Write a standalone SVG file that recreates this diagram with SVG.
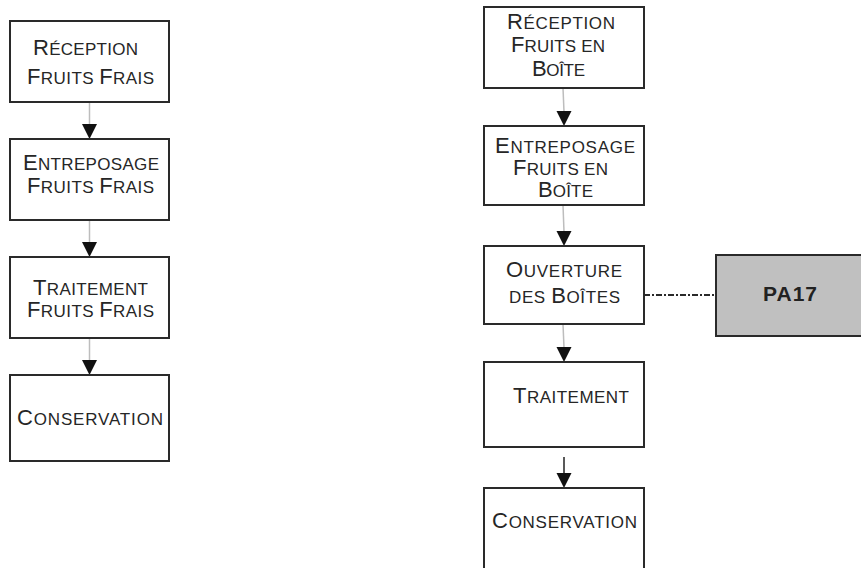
<svg xmlns="http://www.w3.org/2000/svg" width="861" height="568" viewBox="0 0 861 568">
  <style>
    .box { fill: #ffffff; stroke: #2a2a2a; stroke-width: 2; }
    .ref { fill: #c0c0c0; stroke: #2a2a2a; stroke-width: 2; }
    .lbl { font-family: "Liberation Sans", Arial, sans-serif; font-size: 22px; fill: #262626; }
    .sc { font-size: 17px; }
    .code { font-family: "Liberation Sans", Arial, sans-serif; font-size: 21px; font-weight: bold; fill: #222; }
    .link { stroke: #bdbdbd; stroke-width: 1.5; fill: none; }
    .solid { stroke: #222; stroke-width: 1.5; fill: none; }
    .head { fill: #111; }
    .dash { stroke: #2a2a2a; stroke-width: 2; fill: none; stroke-dasharray: 6 2 2 2; }
  </style>
  <rect width="861" height="568" fill="#ffffff"/>

  <!-- connectors -->
  <g id="connectors">
    <!-- fresh fruit line -->
    <line class="link" x1="89.5" y1="102" x2="89.5" y2="125"/>
    <polygon class="head" points="82,124 97,124 89.5,139"/>
    <line class="link" x1="89.5" y1="220" x2="89.5" y2="243"/>
    <polygon class="head" points="82,242 97,242 89.5,257"/>
    <line class="link" x1="89.5" y1="338" x2="89.5" y2="361"/>
    <polygon class="head" points="82,360 97,360 89.5,375"/>
    <!-- canned fruit line -->
    <line class="link" x1="563" y1="88" x2="564" y2="112"/>
    <polygon class="head" points="556.5,111 571.5,111 564,126"/>
    <line class="link" x1="563" y1="205" x2="564" y2="232"/>
    <polygon class="head" points="556.5,231 571.5,231 564,246"/>
    <line class="link" x1="563" y1="324" x2="564" y2="348"/>
    <polygon class="head" points="556.5,347 571.5,347 564,362"/>
    <line class="solid" x1="564" y1="457" x2="564" y2="474"/>
    <polygon class="head" points="556.5,473 571.5,473 564,488"/>
    <!-- link to PA17 -->
    <line class="dash" x1="632" y1="295" x2="716" y2="295"/>
  </g>

  <!-- fresh fruit column -->
  <g id="reception-frais">
    <rect class="box" x="10" y="21" width="159" height="81"/>
    <text class="lbl" x="33" y="55" textLength="105" lengthAdjust="spacing">R<tspan class="sc">ÉCEPTION</tspan></text>
    <text class="lbl" x="27" y="84" textLength="127" lengthAdjust="spacing">F<tspan class="sc">RUITS </tspan>F<tspan class="sc">RAIS</tspan></text>
  </g>
  <g id="entreposage-frais">
    <rect class="box" x="10" y="139" width="159" height="81"/>
    <text class="lbl" x="23" y="170" textLength="136" lengthAdjust="spacing">E<tspan class="sc">NTREPOSAGE</tspan></text>
    <text class="lbl" x="27" y="193" textLength="127" lengthAdjust="spacing">F<tspan class="sc">RUITS </tspan>F<tspan class="sc">RAIS</tspan></text>
  </g>
  <g id="traitement-frais">
    <rect class="box" x="10" y="257" width="159" height="81"/>
    <text class="lbl" x="33" y="295" textLength="115" lengthAdjust="spacing">T<tspan class="sc">RAITEMENT</tspan></text>
    <text class="lbl" x="27" y="317" textLength="127" lengthAdjust="spacing">F<tspan class="sc">RUITS </tspan>F<tspan class="sc">RAIS</tspan></text>
  </g>
  <g id="conservation-frais">
    <rect class="box" x="10" y="375" width="159" height="86"/>
    <text class="lbl" x="17" y="425" textLength="146" lengthAdjust="spacing">C<tspan class="sc">ONSERVATION</tspan></text>
  </g>

  <!-- canned fruit column -->
  <g id="reception-boite">
    <rect class="box" x="484" y="7" width="160" height="81"/>
    <text class="lbl" x="507" y="29" textLength="108" lengthAdjust="spacing">R<tspan class="sc">ÉCEPTION</tspan></text>
    <text class="lbl" x="511" y="52" textLength="94" lengthAdjust="spacing">F<tspan class="sc">RUITS EN</tspan></text>
    <text class="lbl" x="532" y="76" textLength="53" lengthAdjust="spacing">B<tspan class="sc">OÎTE</tspan></text>
  </g>
  <g id="entreposage-boite">
    <rect class="box" x="484" y="126" width="160" height="79"/>
    <text class="lbl" x="495" y="153" textLength="140" lengthAdjust="spacing">E<tspan class="sc">NTREPOSAGE</tspan></text>
    <text class="lbl" x="513" y="175" textLength="95" lengthAdjust="spacing">F<tspan class="sc">RUITS EN</tspan></text>
    <text class="lbl" x="538" y="197" textLength="55" lengthAdjust="spacing">B<tspan class="sc">OÎTE</tspan></text>
  </g>
  <g id="ouverture">
    <rect class="box" x="484" y="246" width="160" height="78"/>
    <text class="lbl" x="506" y="277" textLength="116" lengthAdjust="spacing">O<tspan class="sc">UVERTURE</tspan></text>
    <text class="lbl" x="509" y="303" textLength="111" lengthAdjust="spacing"><tspan class="sc">DES </tspan>B<tspan class="sc">OÎTES</tspan></text>
  </g>
  <g id="pa17">
    <rect class="ref" x="716" y="255" width="150" height="81"/>
    <text class="code" x="763" y="301" textLength="54" lengthAdjust="spacing">PA17</text>
  </g>
  <g id="traitement-boite">
    <rect class="box" x="484" y="362" width="160" height="85"/>
    <text class="lbl" x="513" y="403" textLength="116" lengthAdjust="spacing">T<tspan class="sc">RAITEMENT</tspan></text>
  </g>
  <g id="conservation-boite">
    <rect class="box" x="484" y="488" width="160" height="90"/>
    <text class="lbl" x="492" y="528" textLength="145" lengthAdjust="spacing">C<tspan class="sc">ONSERVATION</tspan></text>
  </g>
</svg>
